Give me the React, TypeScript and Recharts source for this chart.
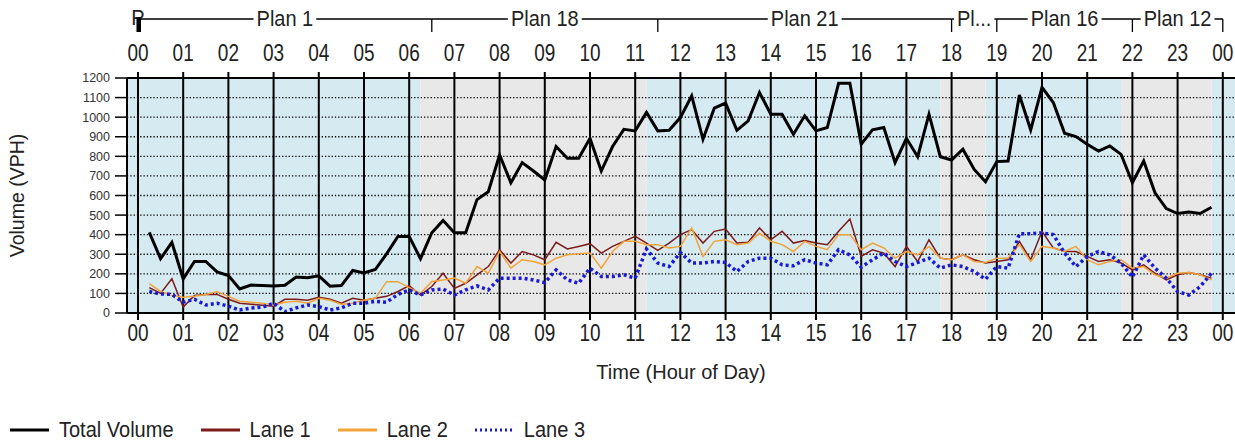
import { LineChart, Line, XAxis, YAxis, ReferenceArea, ReferenceLine } from "recharts"

const FONT = '"Liberation Sans", Arial, sans-serif'

const HOUR_TICKS = [0, 1, 2, 3, 4, 5, 6, 7, 8, 9, 10, 11, 12, 13, 14, 15, 16, 17, 18, 19, 20, 21, 22, 23, 24]
const Y_TICKS = [0, 100, 200, 300, 400, 500, 600, 700, 800, 900, 1000, 1100, 1200]
const X_DOMAIN = [-0.243, 24.27]

// 15-minute counts (VPH), 00:15 .. 23:45
const TOTAL = [
  412, 277, 360,
  174, 263, 263, 210, 191, 123, 143, 140, 138, 142, 184, 180,
  190, 137, 140, 217, 205, 222, 302, 391, 391, 277, 410, 473,
  410, 410, 579, 619, 807, 665, 768, 725, 679, 850, 790, 790,
  892, 725, 850, 938, 930, 1024, 930, 933, 998, 1109, 887, 1046,
  1072, 933, 981, 1126, 1015, 1015, 913, 1007, 930, 947, 1173, 1173,
  862, 935, 947, 768, 892, 798, 1015, 798, 781, 836, 733, 670,
  773, 776, 1113, 935, 1152, 1075, 918, 901, 862, 827, 853, 810,
  665, 776, 614, 533, 508, 516, 508, 540,
]
const LANE1 = [
  130, 100, 175,
  30, 90, 95, 95, 70, 50, 45, 40, 35, 70, 70, 65,
  80, 70, 50, 75, 65, 75, 85, 110, 140, 92, 135, 203,
  126, 152, 195, 237, 323, 255, 314, 297, 272, 361, 327, 340,
  354, 306, 340, 366, 391, 357, 320, 357, 400, 426, 357, 417,
  429, 357, 361, 434, 374, 417, 357, 370, 357, 349, 417, 480,
  289, 323, 306, 237, 340, 263, 374, 280, 272, 297, 272, 255,
  263, 272, 366, 272, 417, 332, 314, 314, 289, 263, 272, 255,
  220, 246, 203, 169, 195, 207, 195, 178,
]
const LANE2 = [
  150, 110, 90,
  80, 85, 95, 110, 85, 60, 55, 50, 40, 55, 60, 50,
  75, 65, 45, 50, 65, 75, 160, 160, 130, 101, 161, 169,
  178, 152, 237, 203, 314, 229, 272, 263, 246, 280, 297, 302,
  306, 229, 314, 366, 366, 349, 349, 332, 340, 434, 289, 366,
  374, 349, 357, 408, 366, 349, 314, 366, 340, 323, 400, 400,
  323, 357, 332, 280, 314, 297, 340, 280, 272, 297, 263, 258,
  280, 280, 349, 263, 340, 332, 314, 340, 272, 246, 263, 272,
  229, 237, 195, 178, 203, 207, 195, 169,
]
const LANE3 = [
  110, 97, 95,
  55, 70, 41, 50, 35, 15, 25, 30, 50, 7, 26, 41,
  33, 15, 26, 50, 50, 60, 55, 95, 118, 92, 118, 122,
  92, 118, 138, 118, 178, 178, 178, 169, 155, 220, 169, 152,
  229, 186, 186, 195, 178, 327, 255, 237, 309, 255, 255, 263,
  258, 212, 263, 280, 280, 246, 241, 272, 255, 246, 323, 297,
  234, 272, 306, 263, 237, 258, 280, 229, 246, 237, 212, 172,
  237, 229, 405, 405, 409, 400, 306, 237, 289, 314, 297, 255,
  183, 297, 229, 178, 109, 92, 135, 203,
]

const PLAN_NAMES = ["Plan 1", "Plan 18", "Plan 21", "Pl...", "Plan 16", "Plan 12"]
const PLAN_START = [0, 6.5, 11.5, 18, 19, 22]
const PLAN_END = [6.5, 11.5, 18, 19, 22, 24]

const BAND_START = [-0.3, 6.25, 11.25, 17.75, 18.75, 21.75, 23.75]
const BAND_END = [6.25, 11.25, 17.75, 18.75, 21.75, 23.75, 24.4]
const BAND_FILL = ["#d6eaf2", "#e8e8e8", "#d6eaf2", "#e8e8e8", "#d6eaf2", "#e8e8e8", "#d6eaf2"]

const SERIES = [
  { key: "total", name: "Total Volume", color: "#000000", width: 3, dash: undefined as string | undefined },
  { key: "lane1", name: "Lane 1", color: "#7d1a1a", width: 1.5, dash: undefined },
  { key: "lane2", name: "Lane 2", color: "#f2a33a", width: 1.5, dash: undefined },
  { key: "lane3", name: "Lane 3", color: "#1a1ad6", width: 3.5, dash: "3 3" },
]

const data = TOTAL.map((t, i) => ({
  h: (i + 1) * 0.25,
  total: t,
  lane1: LANE1[i],
  lane2: LANE2[i],
  lane3: LANE3[i],
}))

let ctx: CanvasRenderingContext2D | null = null
function textWidth(s: string, size: number) {
  if (!ctx) ctx = document.createElement("canvas").getContext("2d")
  if (!ctx) return s.length * size * 0.55
  ctx.font = `${size}px ${FONT}`
  return ctx.measureText(s).width
}

const hh = (v: number) => String(v % 24).padStart(2, "0")

function HourTick(props: any) {
  const { x, y, payload, orientation } = props
  const top = orientation === "top"
  return (
    <g transform={`translate(${x},${top ? y : y + 18}) scale(1,1.3)`}>
      <text x={0} y={0} textAnchor="middle" fontSize={19} fill="#222" fontFamily={FONT}>
        {hh(payload.value)}
      </text>
    </g>
  )
}

function planShape(name: string, first: boolean) {
  return (p: any) => {
    const x0 = p.x
    const x1 = p.x + p.width
    const cx = (x0 + x1) / 2
    const tw = textWidth(name, 20)
    return (
      <g>
        <line x1={x0} x2={x1} y1={19} y2={19} stroke="#000" strokeWidth={1.3} />
        <line x1={x1} x2={x1} y1={19} y2={32} stroke="#000" strokeWidth={1.3} />
        <rect x={cx - tw / 2 - 3} y={6} width={tw + 6} height={24} fill="#fff" />
        <g transform={`translate(${cx},26) scale(1,1.12)`}>
          <text textAnchor="middle" fontSize={20} fill="#222" fontFamily={FONT}>{name}</text>
        </g>
        {first && (
          <g>
            <g transform={`translate(${x0},25) scale(1,1.1)`}>
              <text textAnchor="middle" fontSize={20} fill="#222" fontFamily={FONT}>P</text>
            </g>
            <rect x={x0 - 1.5} y={17} width={4.5} height={15} fill="#000" />
          </g>
        )}
      </g>
    )
  }
}

function LegendRow() {
  return (
    <div style={{ position: "absolute", left: 10, top: 418, display: "flex", alignItems: "center", fontFamily: FONT, fontSize: 20, color: "#222" }}>
      {SERIES.map((s) => (
        <div key={s.key} style={{ display: "flex", alignItems: "center", marginRight: 27 }}>
          <svg width={39} height={8} style={{ marginRight: 10 }}>
            <line x1={0} x2={39} y1={4} y2={4} stroke={s.color} strokeWidth={3} strokeDasharray={s.dash ? "2 3" : undefined} />
          </svg>
          <span style={{ display: "inline-block", transform: "scaleY(1.08)" }}>{s.name}</span>
        </div>
      ))}
    </div>
  )
}

export default function App() {
  return (
    <div style={{ position: "absolute", left: 0, top: 0, width: 1235, height: 443, background: "#fff" }}>
      <LineChart width={1235} height={443} data={data} margin={{ top: 48, right: 0, bottom: 70, left: 0 }}>
        {BAND_FILL.map((f, i) => (
          <ReferenceArea key={`band${i}`} xAxisId="b" x1={BAND_START[i]} x2={BAND_END[i]} y1={0} y2={1200}
            fill={f} fillOpacity={1} stroke="none" ifOverflow="hidden" />
        ))}
        {Y_TICKS.slice(1, -1).map((v) => (
          <ReferenceLine key={`y${v}`} xAxisId="b" y={v} stroke="#000" strokeWidth={1.3} strokeDasharray="1.3 2" />
        ))}
        {HOUR_TICKS.map((h) => (
          <ReferenceLine key={`h${h}`} xAxisId="b" x={h} stroke="#000" strokeWidth={2} />
        ))}
        {PLAN_NAMES.map((n, i) => (
          <ReferenceArea key={`plan${i}`} xAxisId="b" x1={PLAN_START[i]} x2={PLAN_END[i]} y1={0} y2={1200}
            ifOverflow="visible" shape={planShape(n, i === 0)} />
        ))}
        <XAxis xAxisId="b" type="number" dataKey="h" domain={X_DOMAIN} allowDataOverflow ticks={HOUR_TICKS} interval={0}
          height={60} tickSize={7} tickMargin={3} tick={<HourTick orientation="bottom" />}
          axisLine={{ stroke: "#000", strokeWidth: 2 }} tickLine={{ stroke: "#000", strokeWidth: 2 }}
          label={({ viewBox }: any) => (
            <text x={viewBox.x + viewBox.width / 2} y={viewBox.y + 66} textAnchor="middle" fontSize={20} fill="#222" fontFamily={FONT}>
              Time (Hour of Day)
            </text>
          )} />
        <XAxis xAxisId="t" orientation="top" type="number" dataKey="h" domain={X_DOMAIN} allowDataOverflow ticks={HOUR_TICKS} interval={0}
          height={30} tickSize={6} tickMargin={11} tick={<HourTick orientation="top" />}
          axisLine={{ stroke: "#000", strokeWidth: 2 }} tickLine={{ stroke: "#000", strokeWidth: 2 }} />
        <YAxis type="number" domain={[0, 1200]} ticks={Y_TICKS} interval={0} width={127}
          tickSize={12} tickMargin={5} tick={{ fontSize: 12.5, fill: "#333", fontFamily: FONT }}
          axisLine={{ stroke: "#000", strokeWidth: 2 }} tickLine={{ stroke: "#000", strokeWidth: 1.5 }}
          label={({ viewBox }: any) => (
            <text transform={`translate(${viewBox.x + 24},${viewBox.y + viewBox.height / 2}) rotate(-90)`}
              textAnchor="middle" fontSize={19.5} fill="#222" fontFamily={FONT}>
              Volume (VPH)
            </text>
          )} />
        {SERIES.map((s) => (
          <Line key={s.key} xAxisId="b" type="linear" dataKey={s.key} name={s.name} stroke={s.color}
            strokeWidth={s.width} strokeDasharray={s.dash} dot={false} isAnimationActive={false} />
        ))}
      </LineChart>
      <LegendRow />
    </div>
  )
}
